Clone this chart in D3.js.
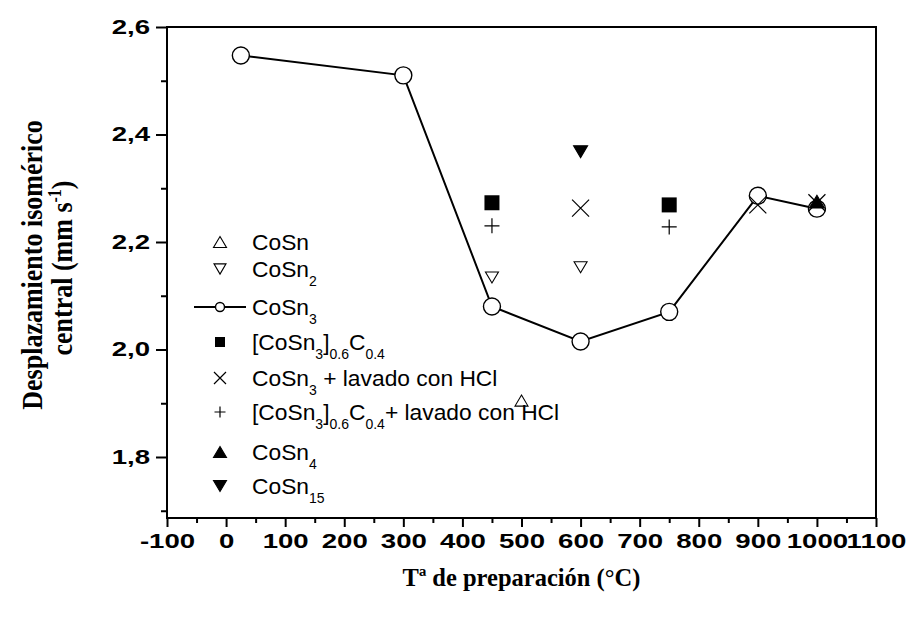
<!DOCTYPE html>
<html>
<head>
<meta charset="utf-8">
<script src="https://cdn.jsdelivr.net/npm/d3@7"></script>
<style>
  body { margin: 0; background: #fff; }
  svg { display: block; }
</style>
</head>
<body>
<div id="chart"></div>
<script>
// ---------------- DATA ----------------

const xTicks = [-100, 0, 100, 200, 300, 400, 500, 600, 700, 800, 900, 1000, 1100];
const xMinor = [-50, 50, 150, 250, 350, 450, 550, 650, 750, 850, 950, 1050];
const yTicks = [1.8, 2.0, 2.2, 2.4, 2.6];
const yMinor = [1.7, 1.9, 2.1, 2.3, 2.5];

// CoSn3 (line + open circles)
const cosn3Temp = [25, 300, 450, 600, 750, 900, 1000];
const cosn3Shift = [2.547, 2.510, 2.080, 2.015, 2.070, 2.286, 2.262];

const cosnTemp = [500];
const cosnShift = [1.905];

const cosn2Temp = [450, 600];
const cosn2Shift = [2.134, 2.153];

const compTemp = [450, 750];           // [CoSn3]0.6C0.4
const compShift = [2.273, 2.269];

const lavadoTemp = [600, 900, 1000];   // CoSn3 + lavado con HCl
const lavadoShift = [2.263, 2.269, 2.273];

const compLavTemp = [450, 750];        // [CoSn3]0.6C0.4 + lavado con HCl
const compLavShift = [2.230, 2.228];

const cosn4Temp = [1000];
const cosn4Shift = [2.275];

const cosn15Temp = [600];
const cosn15Shift = [2.368];

// legend labels: [text, isSubscript]
const legendLabels = [
  [["CoSn", 0]],
  [["CoSn", 0], ["2", 1]],
  [["CoSn", 0], ["3", 1]],
  [["[CoSn", 0], ["3", 1], ["]", 0], ["0.6", 1], ["C", 0], ["0.4", 1]],
  [["CoSn", 0], ["3", 1], [" + lavado con HCl", 0]],
  [["[CoSn", 0], ["3", 1], ["]", 0], ["0.6", 1], ["C", 0], ["0.4", 1], ["+ lavado con HCl", 0]],
  [["CoSn", 0], ["4", 1]],
  [["CoSn", 0], ["15", 1]],
];

// ---------------- SETUP ----------------

const width = 907, height = 619;
const margin = { top: 27, right: 31, bottom: 101, left: 167 };

const svg = d3.select("#chart")
  .append("svg")
  .attr("width", width)
  .attr("height", height);

const x = d3.scaleLinear()
  .domain([-100, 1100])
  .range([margin.left, width - margin.right]);

const y = d3.scaleLinear()
  .domain([1.6865, 2.6])
  .range([height - margin.bottom, margin.top]);

const stretch = 1.38;
const tickFont = "'Liberation Sans', Arial, sans-serif";
const serif = "'Liberation Serif', 'Times New Roman', serif";

// ---------------- AXES ----------------

const xAxis = svg.append("g")
  .attr("transform", `translate(0,${height - margin.bottom})`)
  .call(d3.axisBottom(x).tickValues(xTicks).tickSize(9).tickPadding(7).tickFormat(d => String(d)));

const xAxisMinor = svg.append("g")
  .attr("transform", `translate(0,${height - margin.bottom})`)
  .call(d3.axisBottom(x).tickValues(xMinor).tickSize(5).tickFormat(""));

const yAxis = svg.append("g")
  .attr("transform", `translate(${margin.left},0)`)
  .call(d3.axisLeft(y).tickValues(yTicks).tickSize(11).tickFormat(d => d.toFixed(1).replace(".", ",")));

const yAxisMinor = svg.append("g")
  .attr("transform", `translate(${margin.left},0)`)
  .call(d3.axisLeft(y).tickValues(yMinor).tickSize(6).tickFormat(""));

[xAxis, xAxisMinor, yAxis, yAxisMinor].forEach(g => {
  g.select(".domain").remove();
  g.selectAll(".tick line").attr("stroke", "#000").attr("stroke-width", 2);
});

xAxis.selectAll("text")
  .attr("fill", "#000")
  .attr("font-family", tickFont)
  .attr("font-weight", "bold")
  .attr("font-size", 20)
  .attr("transform", `scale(${stretch},1)`);

yAxis.selectAll("text")
  .attr("fill", "#000")
  .attr("font-family", tickFont)
  .attr("font-weight", "bold")
  .attr("font-size", 20)
  .attr("x", -17 / stretch)
  .attr("transform", `scale(${stretch},1)`);

// frame
svg.append("rect")
  .attr("x", x(-100))
  .attr("y", y(2.6))
  .attr("width", x(1100) - x(-100))
  .attr("height", y(1.6865) - y(2.6))
  .attr("fill", "none")
  .attr("stroke", "#000")
  .attr("stroke-width", 2);

// axis titles
svg.append("text")
  .attr("x", (x(-100) + x(1100)) / 2)
  .attr("y", 586)
  .attr("text-anchor", "middle")
  .attr("font-family", serif)
  .attr("font-weight", "bold")
  .attr("font-size", 24.5)
  .text("Tª de preparación (°C)");

const yTitle = svg.append("g")
  .attr("font-family", serif)
  .attr("font-weight", "bold")
  .attr("font-size", 26)
  .attr("text-anchor", "middle");

yTitle.append("text")
  .attr("transform", "translate(42,265) rotate(-90) scale(1,1.12)")
  .text("Desplazamiento isomérico");

const t2 = yTitle.append("text")
  .attr("transform", "translate(72,268) rotate(-90) scale(1,1.12)");
t2.append("tspan").text("central (mm s");
t2.append("tspan").attr("font-size", 16).attr("dy", -10).text("-1");
t2.append("tspan").attr("dy", 10).text(")");

// ---------------- MARKERS ----------------

function drawMarker(g, shape, s) {
  const h = s / 2;
  if (shape === "circle") {
    g.append("circle").attr("r", h).attr("fill", "#fff").attr("stroke", "#000").attr("stroke-width", 1.4);
  } else if (shape === "triUp" || shape === "triUpFill") {
    const hh = h * 0.85;
    g.append("path")
      .attr("d", `M0,${-hh}L${h},${hh}L${-h},${hh}Z`)
      .attr("fill", shape === "triUp" ? "#fff" : "#000")
      .attr("stroke", "#000").attr("stroke-width", 1.1);
  } else if (shape === "triDown" || shape === "triDownFill") {
    const hh = h * 0.85;
    g.append("path")
      .attr("d", `M0,${hh}L${h},${-hh}L${-h},${-hh}Z`)
      .attr("fill", shape === "triDown" ? "#fff" : "#000")
      .attr("stroke", "#000").attr("stroke-width", 1.1);
  } else if (shape === "square") {
    g.append("rect").attr("x", -h).attr("y", -h).attr("width", s).attr("height", s).attr("fill", "#000");
  } else if (shape === "cross") {
    g.append("path").attr("d", `M${-h},${-h}L${h},${h}M${-h},${h}L${h},${-h}`)
      .attr("stroke", "#000").attr("stroke-width", 1.2);
  } else if (shape === "plus") {
    g.append("path").attr("d", `M${-h},0L${h},0M0,${-h}L0,${h}`)
      .attr("stroke", "#000").attr("stroke-width", 1.2);
  }
}

const series = [
  { temp: cosnTemp, shift: cosnShift, shape: "triUp", size: 13, legSize: 13 },
  { temp: cosn2Temp, shift: cosn2Shift, shape: "triDown", size: 13, legSize: 12 },
  { temp: cosn3Temp, shift: cosn3Shift, shape: "circle", size: 17, legSize: 9, line: true },
  { temp: compTemp, shift: compShift, shape: "square", size: 15, legSize: 10 },
  { temp: lavadoTemp, shift: lavadoShift, shape: "cross", size: 17, legSize: 12 },
  { temp: compLavTemp, shift: compLavShift, shape: "plus", size: 15, legSize: 11 },
  { temp: cosn4Temp, shift: cosn4Shift, shape: "triUpFill", size: 15, legSize: 13 },
  { temp: cosn15Temp, shift: cosn15Shift, shape: "triDownFill", size: 14, legSize: 13 },
];

// CoSn3 line
svg.append("path")
  .datum(d3.zip(cosn3Temp, cosn3Shift))
  .attr("fill", "none")
  .attr("stroke", "#000")
  .attr("stroke-width", 2)
  .attr("d", d3.line().x(d => x(d[0])).y(d => y(d[1])));

// draw circles first, then the others on top
const drawOrder = [2, 0, 1, 3, 5, 4, 7, 6];
drawOrder.forEach(i => {
  const s = series[i];
  d3.zip(s.temp, s.shift).forEach(([t, v]) => {
    const g = svg.append("g").attr("transform", `translate(${x(t)},${y(v)})`);
    drawMarker(g, s.shape, s.size);
  });
});

// ---------------- LEGEND ----------------

const legendRows = [242, 269, 307, 342, 378, 412, 452, 486];
const legend = svg.append("g");

series.forEach((s, i) => {
  const row = legend.append("g").attr("transform", `translate(220,${legendRows[i]})`);
  if (s.line) {
    row.append("line").attr("x1", -26).attr("x2", 26).attr("stroke", "#000").attr("stroke-width", 2);
  }
  drawMarker(row, s.shape, s.legSize);

  const txt = row.append("text")
    .attr("x", 32)
    .attr("y", 8)
    .attr("font-family", tickFont)
    .attr("font-size", 22.8)
    .attr("fill", "#000");
  let sub = false;
  legendLabels[i].forEach(([str, isSub]) => {
    const ts = txt.append("tspan").text(str);
    if (isSub && !sub) ts.attr("dy", 9);
    if (!isSub && sub) ts.attr("dy", -9);
    if (isSub) ts.attr("font-size", 14);
    sub = !!isSub;
  });
});
</script>
</body>
</html>
